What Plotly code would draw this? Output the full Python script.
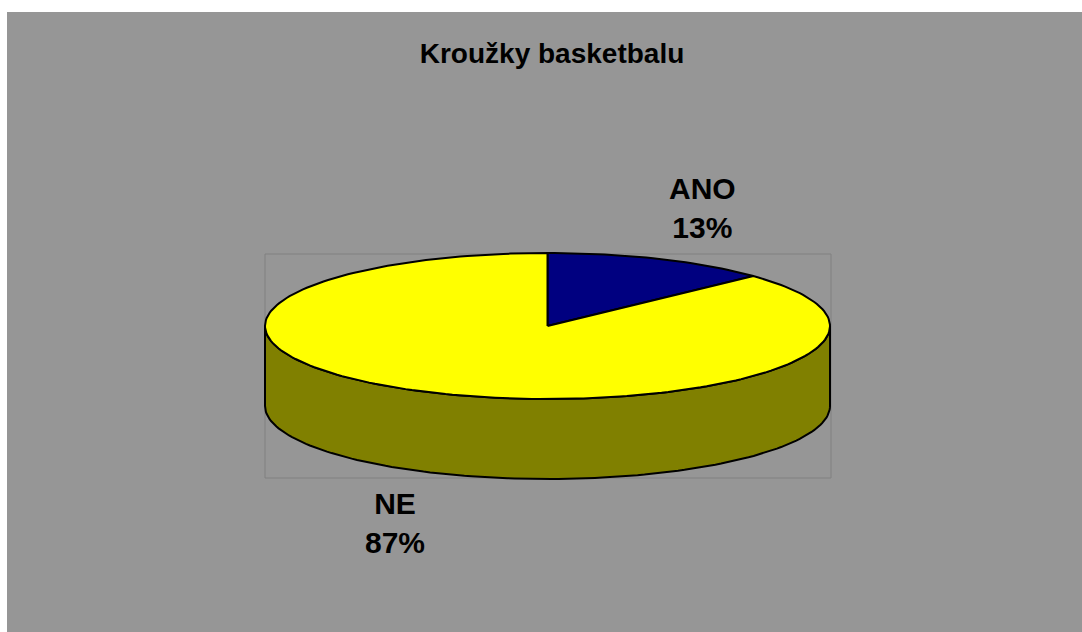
import numpy as np
import plotly.graph_objects as go

# ---- data ----
title_text = "Kroužky basketbalu"
labels = ["ANO", "NE"]
values = [13, 87]
top_colors = ["#000080", "#FFFF00"]
side_colors = ["#000040", "#808000"]

# ---- layout constants (pixels) ----
W, H = 1082, 632
cx, cy, rx, ry, depth = 547.5, 326.0, 282.5, 73.0, 80.0
label_pos = {"ANO": (702, 208), "NE": (395, 523)}

total = float(sum(values))


def arc(t0, t1, dy=0.0, n=240):
    t = np.radians(np.linspace(t0, t1, max(2, int(abs(t1 - t0) / 360 * n) + 2)))
    return cx + rx * np.sin(t), cy - ry * np.cos(t) + dy


fig = go.Figure()

# angles clockwise from 12 o'clock
bounds = []
acc = 0.0
for v in values:
    s = acc / total * 360.0
    acc += v
    e = acc / total * 360.0
    bounds.append((s, e))

# side walls (visible front half: 90..270 deg)
for (s, e), col in zip(bounds, side_colors):
    lo, hi = max(s, 90.0), min(e, 270.0)
    if hi <= lo:
        continue
    xt, yt = arc(lo, hi)
    xb, yb = arc(hi, lo, dy=depth)
    xs = np.concatenate([xt, xb, xt[:1]])
    ys = np.concatenate([yt, yb, yt[:1]])
    fig.add_trace(go.Scatter(x=xs, y=ys, mode="lines", fill="toself",
                             fillcolor=col, line=dict(color="black", width=2),
                             hoverinfo="skip", showlegend=False))

# top faces
for (s, e), col, lab, v in zip(bounds, top_colors, labels, values):
    xa, ya = arc(s, e)
    xs = np.concatenate([[cx], xa, [cx]])
    ys = np.concatenate([[cy], ya, [cy]])
    fig.add_trace(go.Scatter(x=xs, y=ys, mode="lines", fill="toself",
                             fillcolor=col, line=dict(color="black", width=2),
                             name=lab, hoverinfo="name", showlegend=False))

# data labels
for lab, v in zip(labels, values):
    px, py = label_pos[lab]
    fig.add_annotation(x=px, y=py, xref="x", yref="y", showarrow=False,
                       text=f"<b>{lab}<br>{round(v / total * 100)}%</b>",
                       font=dict(family="Liberation Sans, Arial", size=30, color="black"),
                       align="center")

fig.update_layout(
    width=W, height=H,
    margin=dict(l=0, r=0, t=0, b=0),
    paper_bgcolor="white",
    plot_bgcolor="rgba(0,0,0,0)",
    title=dict(text=f"<b>{title_text}</b>", x=552 / W, y=1 - 53 / H,
               xanchor="center", yanchor="middle",
               font=dict(family="Liberation Sans, Arial", size=28, color="black")),
    xaxis=dict(range=[0, W], visible=False, fixedrange=True),
    yaxis=dict(range=[H, 0], visible=False, fixedrange=True),
    shapes=[
        dict(type="rect", xref="x", yref="y", x0=7, y0=12, x1=W, y1=H,
             fillcolor="#969696", line=dict(width=0), layer="below"),
        dict(type="rect", xref="x", yref="y", x0=265, y0=254, x1=831, y1=478,
             fillcolor="rgba(0,0,0,0)", line=dict(color="#808080", width=1), layer="below"),
    ],
)

fig.write_html("out.html")
